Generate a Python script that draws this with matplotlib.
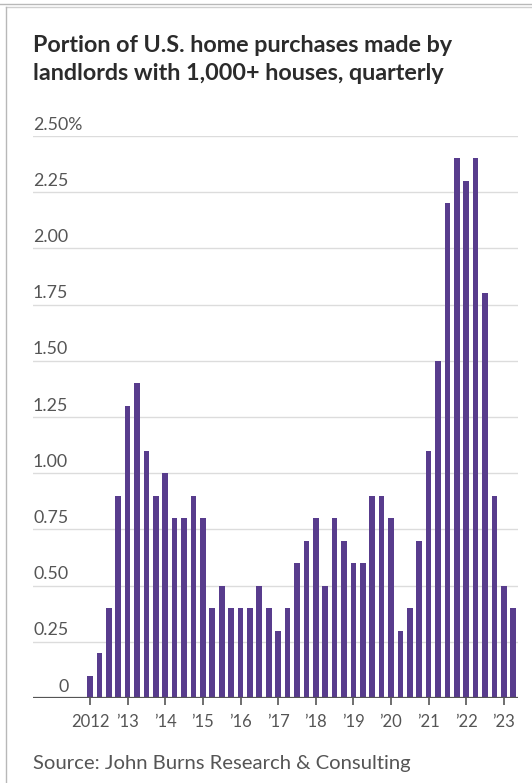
import matplotlib
matplotlib.use("Agg")
import matplotlib.pyplot as plt
from matplotlib.lines import Line2D

# quarterly share of purchases, 2012 Q1 .. 2023 Q2 (percent)
share = [
    0.1, 0.2, 0.4, 0.9,   # 2012
    1.3, 1.4, 1.1, 0.9,   # 2013
    1.0, 0.8, 0.8, 0.9,   # 2014
    0.8, 0.4, 0.5, 0.4,   # 2015
    0.4, 0.4, 0.5, 0.4,   # 2016
    0.3, 0.4, 0.6, 0.7,   # 2017
    0.8, 0.5, 0.8, 0.7,   # 2018
    0.6, 0.6, 0.9, 0.9,   # 2019
    0.8, 0.3, 0.4, 0.7,   # 2020
    1.1, 1.5, 2.2, 2.4,   # 2021
    2.3, 2.4, 1.8, 0.9,   # 2022
    0.5, 0.4,             # 2023
]
year_labels = ["2012", "\u201913", "\u201914", "\u201915", "\u201916", "\u201917",
               "\u201918", "\u201919", "\u201920", "\u201921", "\u201922", "\u201923"]
y_ticks = [0, 0.25, 0.5, 0.75, 1.0, 1.25, 1.5, 1.75, 2.0, 2.25, 2.5]
y_labels = ["0", "0.25", "0.50", "0.75", "1.00", "1.25", "1.50", "1.75", "2.00", "2.25", "2.50%"]

title = "Portion of U.S. home purchases made by\nlandlords with 1,000+ houses, quarterly"
source = "Source: John Burns Research & Consulting"

BAR = "#583c8d"
GRID = "#dcdcdc"
TEXT = "#555555"

W, H = 532, 783
fig = plt.figure(figsize=(W / 100, H / 100), dpi=100)
fig.patch.set_facecolor("white")

# axes box in pixels: left 33, right 518, top 136, bottom 698
ax = fig.add_axes([33 / W, 1 - 698 / H, (518 - 33) / W, (698 - 136) / H])

x = list(range(len(share)))
ax.bar(x, share, width=0.6, color=BAR, zorder=3)

ax.set_ylim(0, 2.5)
ax.set_xlim(-6.06, 45.5)

for s in ax.spines.values():
    s.set_visible(False)

# horizontal gridlines with labels sitting on top of them
for v, lab in zip(y_ticks, y_labels):
    if v > 0:
        ax.axhline(v, color=GRID, lw=1.0, zorder=1)
        ax.annotate(lab, xy=(0, v), xycoords=("axes fraction", "data"),
                    xytext=(0, 2.5), textcoords="offset points",
                    ha="left", va="bottom", fontsize=12.8, color=TEXT, family="Lato")
    else:
        # zero label tucked right, ending where the others end
        ax.annotate(lab, xy=(0, v), xycoords=("axes fraction", "data"),
                    xytext=(25.5, 2.5), textcoords="offset points",
                    ha="right", va="bottom", fontsize=12.8, color=TEXT, family="Lato")
ax.axhline(0, color="#555555", lw=1.6, zorder=4)
ax.set_yticks([])

ax.set_xticks(range(0, len(share), 4))
ax.set_xticklabels(year_labels, fontsize=12, color=TEXT, family="Lato")
ax.tick_params(axis="x", length=5, width=1.2, color="#555555", pad=6.5)

fig.text(33 / W, 1 - 35 / H, title, ha="left", va="top", fontsize=16.8,
         fontweight="bold", color="#2b2b2b", family="Lato", linespacing=1.42)
fig.text(33 / W, 1 - 764 / H, source, ha="left", va="center", fontsize=14.6,
         color=TEXT, family="Lato")

# thin card frame at the top and left edge
fig.add_artist(Line2D([0, 1], [1 - 4 / H, 1 - 4 / H], color="#b8b8b8", lw=1.0,
                      transform=fig.transFigure))
fig.add_artist(Line2D([6 / W, 1], [1 - 7 / H, 1 - 7 / H], color="#cfcfcf", lw=1.0,
                      transform=fig.transFigure))
fig.add_artist(Line2D([6 / W, 6 / W], [0, 1 - 7 / H], color="#b8b8b8", lw=1.0,
                      transform=fig.transFigure))

fig.savefig("out.png", dpi=100)
